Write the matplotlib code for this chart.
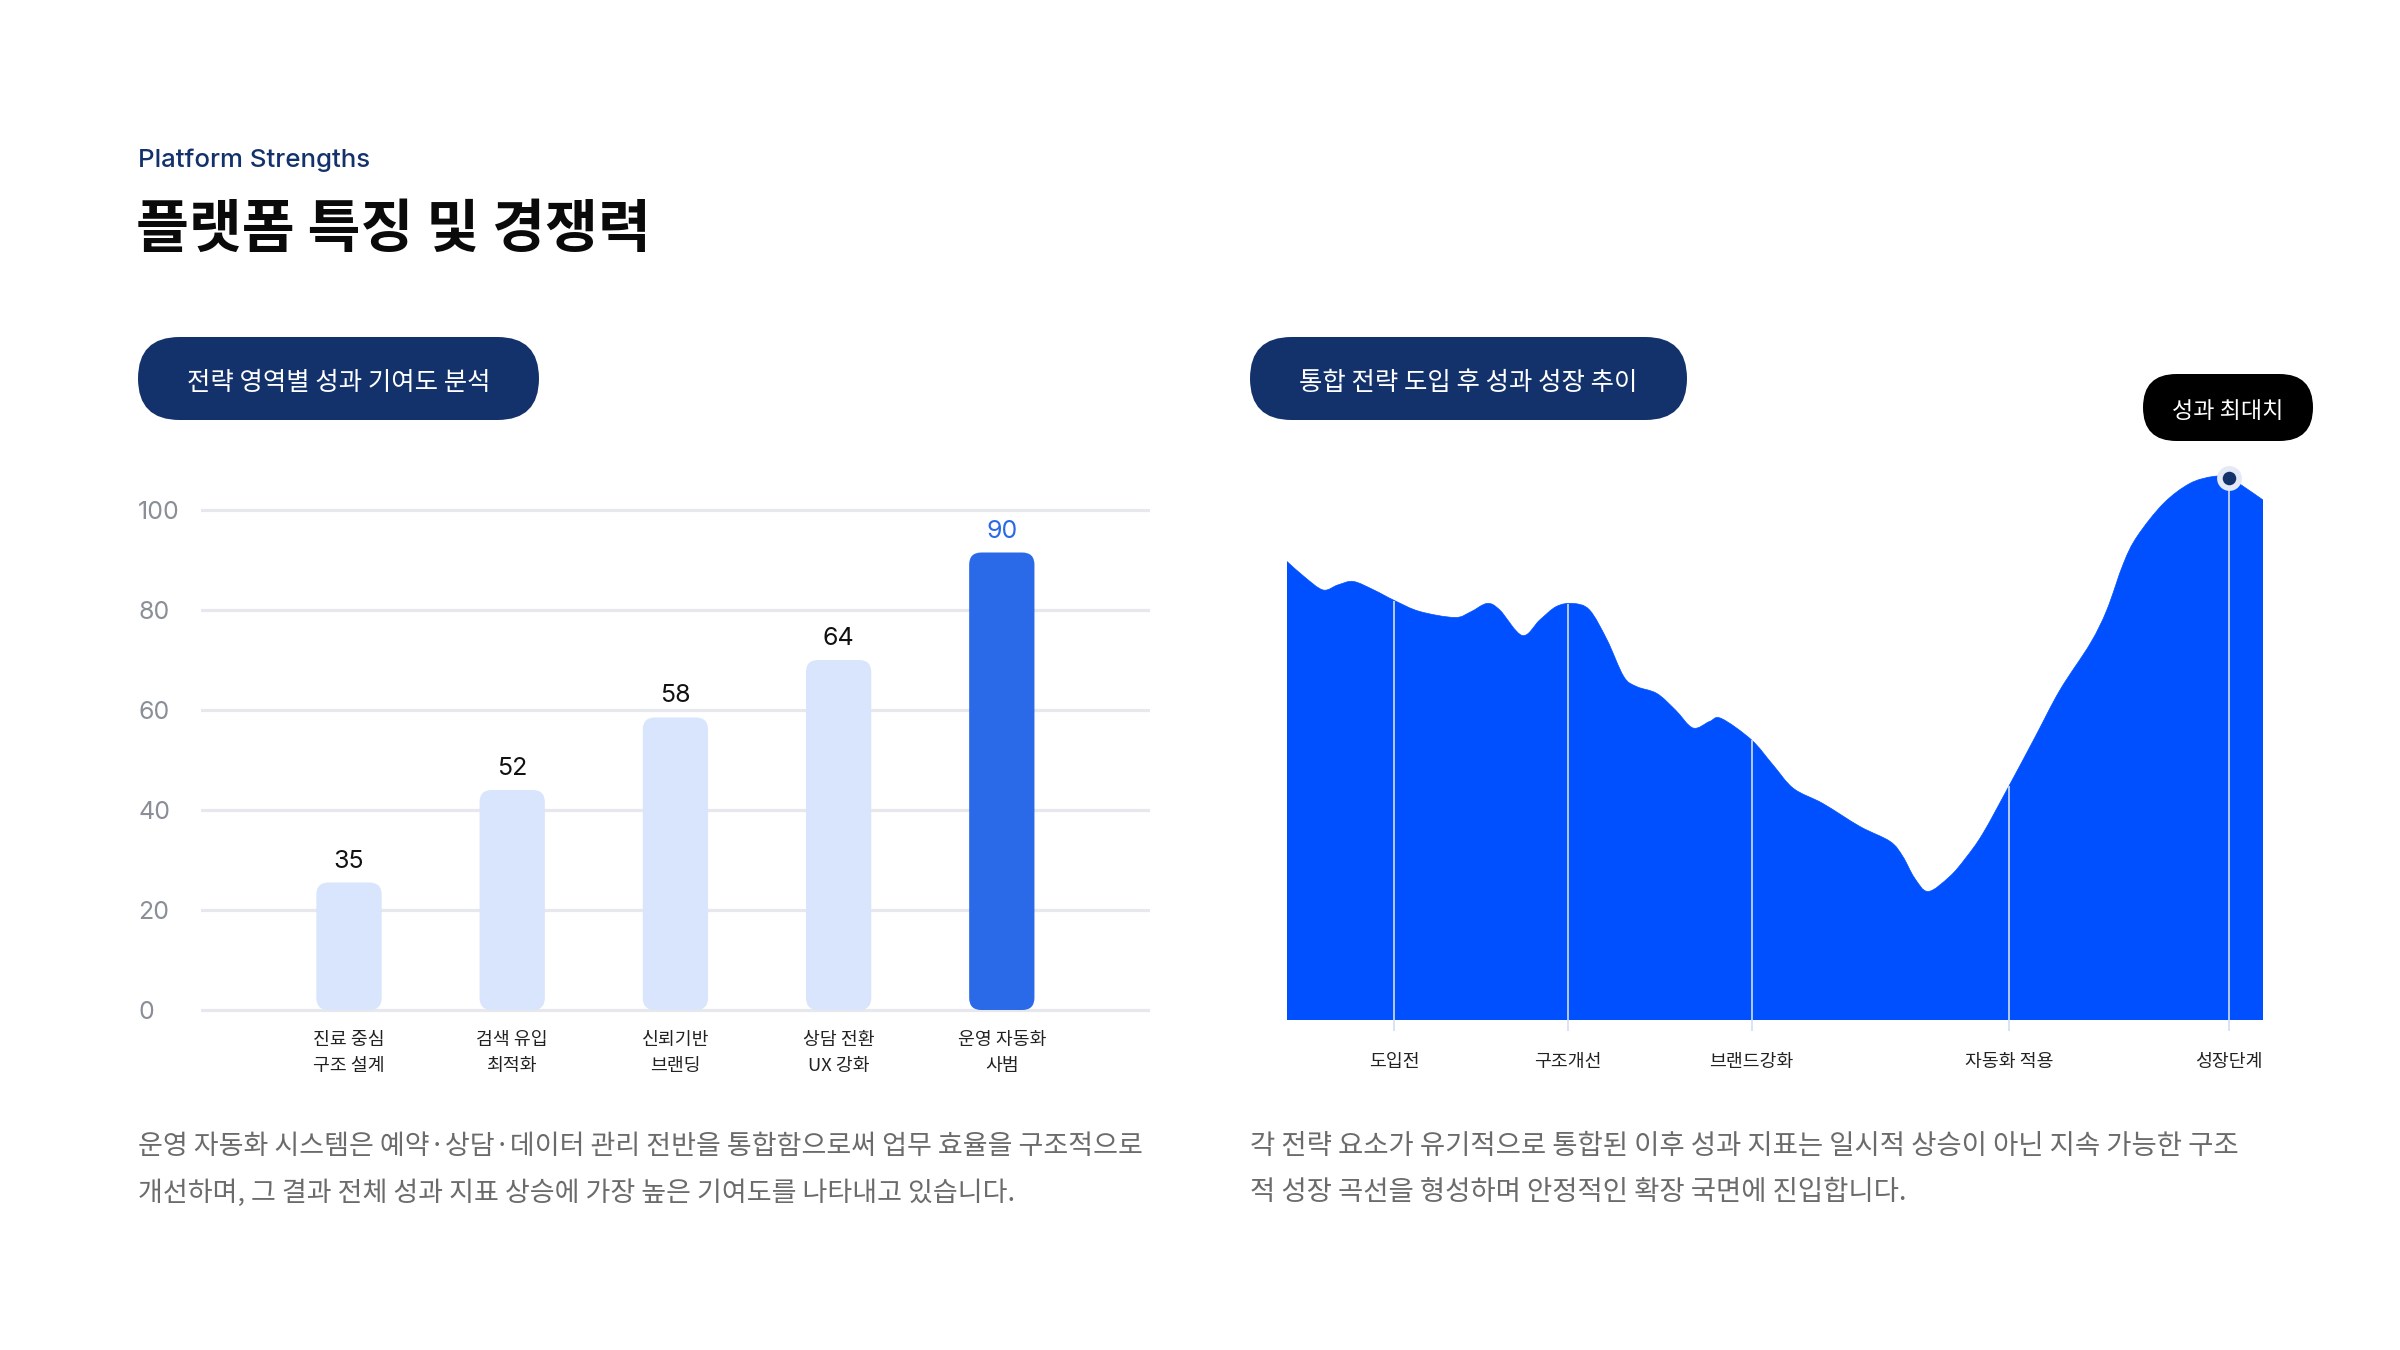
import numpy as np
import matplotlib
matplotlib.use("Agg")
import matplotlib.pyplot as plt
from matplotlib.patches import FancyBboxPatch, PathPatch
from matplotlib.path import Path

KR = ["Noto Sans CJK KR", "DejaVu Sans"]
LAT = ["Inter", "Noto Sans CJK KR", "DejaVu Sans"]
plt.rcParams["font.family"] = KR

# ---------------- data ----------------
eyebrow = "Platform Strengths"
title = "플랫폼 특징 및 경쟁력"
bar_pill = "전략 영역별 성과 기여도 분석"
area_pill = "통합 전략 도입 후 성과 성장 추이"
peak_label = "성과 최대치"

bar_categories = ["진료 중심\n구조 설계", "검색 유입\n최적화", "신뢰기반\n브랜딩",
                  "상담 전환\nUX 강화", "운영 자동화\n사범"]
bar_heights = [25.5, 44.0, 58.5, 70.0, 91.5]
bar_labels = ["35", "52", "58", "64", "90"]
highlight_index = 4
bar_ticks = [0, 20, 40, 60, 80, 100]

stage_names = ["도입전", "구조개선", "브랜드강화", "자동화 적용", "성장단계"]
stage_positions = [11.0, 28.8, 47.6, 74.0, 96.5]

curve_t = [0.0, 1.8, 3.7, 5.2, 6.8, 8.9, 11.0, 13.6, 17.2, 18.8, 20.5, 21.8, 24.1,
           25.9, 27.6, 29.3, 31.0, 32.8, 34.5, 35.8, 37.9, 39.8, 41.6, 43.3, 44.5,
           47.6, 49.8, 51.9, 54.9, 58.7, 61.8, 63.1, 64.3, 65.7, 67.9, 69.5, 71.3,
           74.0, 76.6, 79.2, 82.3, 84.0, 85.7, 87.1, 89.8, 92.5, 94.9, 96.5, 98.0, 100.0]
curve_v = [91.7, 88.6, 86.0, 87.0, 87.7, 86.0, 83.9, 81.7, 80.5, 81.6, 83.3, 82.0, 76.9,
           80.0, 82.7, 83.3, 82.0, 76.0, 68.7, 66.7, 65.3, 62.0, 58.4, 59.7, 60.3,
           56.0, 51.0, 46.3, 43.3, 38.7, 35.7, 32.7, 28.4, 25.7, 28.7, 32.3, 37.3,
           46.9, 56.4, 66.0, 75.3, 82.0, 91.3, 96.7, 103.3, 107.3, 108.7, 108.5, 106.7, 104.0]

left_note = ["운영 자동화 시스템은 예약·상담·데이터 관리 전반을 통합함으로써 업무 효율을 구조적으로",
             "개선하며, 그 결과 전체 성과 지표 상승에 가장 높은 기여도를 나타내고 있습니다."]
right_note = ["각 전략 요소가 유기적으로 통합된 이후 성과 지표는 일시적 상승이 아닌 지속 가능한 구조",
              "적 성장 곡선을 형성하며 안정적인 확장 국면에 진입합니다."]

# ---------------- style ----------------
NAVY = "#13326c"
BLUE_AREA = "#0050ff"
BAR_LIGHT = "#d8e5fc"
BAR_HI = "#2a69e8"
GRID = "#e6e8ee"
DY = 4  # small vertical text nudge (px)

W, H = 2400, 1350
fig = plt.figure(figsize=(24, 13.5), dpi=100)
fig.patch.set_facecolor("white")

# overlay in pixel coordinates (y downwards)
ov = fig.add_axes([0, 0, 1, 1], zorder=0)
ov.set_xlim(0, W)
ov.set_ylim(H, 0)
ov.axis("off")

ov.text(138, 156 + DY, eyebrow, family=LAT, fontsize=18.6, weight="medium",
        color=NAVY, ha="left", va="center")
ov.text(136, 226 + DY, title, family=KR, fontsize=41.4, weight="bold",
        color="#0a0a0a", ha="left", va="center")


def pill(x, y, w, h, color, text, size):
    p = FancyBboxPatch((x, y), w, h, boxstyle=f"round,pad=0,rounding_size={h/2}",
                       fc=color, ec="none")
    ov.add_patch(p)
    ov.text(x + w / 2, y + h / 2 + DY, text, family=KR, fontsize=size,
            weight="medium", color="white", ha="center", va="center")


pill(138, 337, 401, 83, NAVY, bar_pill, 18.3)
pill(1250, 337, 437, 83, NAVY, area_pill, 18.3)
pill(2143, 374, 170, 67, "#000000", peak_label, 16.6)

for i, line in enumerate(left_note):
    ov.text(138, 1142 + DY + 47 * i, line, family=KR, fontsize=19.45, color="#6b6b6b",
            ha="left", va="center")
for i, line in enumerate(right_note):
    ov.text(1250, 1142 + DY + 47 * i, line, family=KR, fontsize=19.8, color="#6b6b6b",
            ha="left", va="center")

# ---------------- bar chart ----------------
axb = fig.add_axes([200.5 / W, (H - 1030) / H, 949 / W, 540 / H], zorder=1)
axb.set_facecolor("none")
x = np.arange(len(bar_heights))
colors = [BAR_HI if i == highlight_index else BAR_LIGHT for i in range(len(x))]
bars = axb.bar(x, bar_heights, width=0.4, color=colors)
for b in bars:
    b.set_visible(False)
    fb = FancyBboxPatch((b.get_x(), b.get_y()), b.get_width(), b.get_height(),
                        boxstyle="round,pad=0,rounding_size=0.075",
                        mutation_aspect=32.6, fc=b.get_facecolor(), ec="none", zorder=2)
    axb.add_patch(fb)
axb.set_xlim(-0.91, 4.905)
axb.set_ylim(-4, 104)
axb.set_yticks(bar_ticks)
axb.grid(axis="y", color=GRID, lw=2.3)
axb.set_axisbelow(True)
for s in axb.spines.values():
    s.set_visible(False)
axb.set_xticks([])
axb.tick_params(axis="y", length=0, pad=45, labelsize=18, labelcolor="#8a8f97")
for t in axb.get_yticklabels():
    t.set_horizontalalignment("left")
    t.set_family(LAT)

for i, (h, lab) in enumerate(zip(bar_heights, bar_labels)):
    axb.text(i, h + 4.3, lab, family=LAT, fontsize=18,
             color=BAR_HI if i == highlight_index else "#111111",
             ha="center", va="center")

tr = axb.get_xaxis_transform()
for i, cat in enumerate(bar_categories):
    lines = cat.split("\n")
    for j, ln in enumerate(lines):
        axb.text(i, (-6 - DY - 26 * j) / 540, ln, transform=tr, family=KR, fontsize=13.2,
                 color="#222222", ha="center", va="center")

# ---------------- area chart ----------------
axa = fig.add_axes([1287 / W, (H - 1020) / H, 976 / W, 600 / H], zorder=1)
axa.set_facecolor("none")
axa.set_xlim(0, 100)
axa.set_ylim(0, 120)
axa.axis("off")

# smooth (Catmull-Rom -> cubic Bezier) rendering through the read points
P = np.column_stack([curve_t, curve_v])
n = len(P)
verts = [(P[0, 0], 0.0), tuple(P[0])]
codes = [Path.MOVETO, Path.LINETO]
for i in range(n - 1):
    p0 = P[max(i - 1, 0)]
    p1 = P[i]
    p2 = P[i + 1]
    p3 = P[min(i + 2, n - 1)]
    c1 = p1 + (p2 - p0) / 6.0
    c2 = p2 - (p3 - p1) / 6.0
    verts += [tuple(c1), tuple(c2), tuple(p2)]
    codes += [Path.CURVE4] * 3
verts += [(P[-1, 0], 0.0), (P[0, 0], 0.0)]
codes += [Path.LINETO, Path.CLOSEPOLY]
axa.add_patch(PathPatch(Path(verts, codes), fc=BLUE_AREA, ec=BLUE_AREA, lw=0.5,
                        zorder=1))

stage_vals = np.interp(stage_positions, curve_t, curve_v)
axa.vlines(stage_positions, -2.2, stage_vals, colors="#d3def3", lw=1.2,
           clip_on=False, zorder=2)
trA = axa.get_xaxis_transform()
for p, name in zip(stage_positions, stage_names):
    axa.text(p, (-38 - DY) / 600, name, transform=trA, family=KR, fontsize=13.2,
             color="#222222", ha="center", va="center", clip_on=False)

axa.scatter([stage_positions[-1]], [stage_vals[-1]], s=320, color="#e3e9f7",
            zorder=4, clip_on=False, lw=0)
axa.scatter([stage_positions[-1]], [stage_vals[-1]], s=95, color=NAVY,
            zorder=5, clip_on=False, lw=0)

fig.savefig("out.png", dpi=100, facecolor="white")
